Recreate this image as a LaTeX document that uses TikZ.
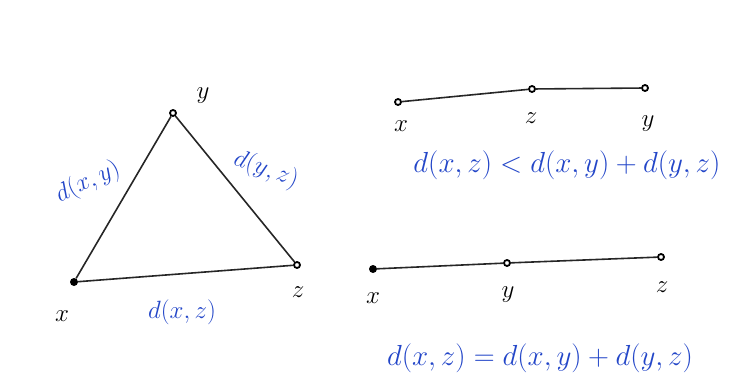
\documentclass[tikz,border=0pt]{standalone}
\usepackage{fix-cm}
\usepackage{fontspec}
\definecolor{ink}{RGB}{35,70,200}
\tikzset{
  pt/.style={circle,draw,line width=1.8pt,inner sep=0pt,minimum size=6pt},
  fpt/.style={circle,fill,inner sep=0pt,minimum size=8pt},
  edge/.style={line width=1.6pt,black!85},
  lbl/.style={font=\fontsize{25}{30}\selectfont},
  blu/.style={text=ink,font=\fontsize{25}{30}\selectfont},
  eqn/.style={text=ink,font=\fontsize{29}{34}\selectfont}
}
\begin{document}
\begin{tikzpicture}[x=1pt,y=-1pt]
\useasboundingbox (0,0) rectangle (737,377);
% triangle
\node[fpt] (tx) at (74,282) {};
\node[pt] (ty) at (173,113) {};
\node[pt] (tz) at (297,265) {};
\draw[edge] (tx) -- (ty) -- (tz) -- (tx);
\node[lbl] (ltx) at (62,316) {$x$};
\node[lbl] (lty) at (203,96) {$y$};
\node[lbl] (ltz) at (298,292) {$z$};
\node[blu,rotate=25] (dxy) at (88,182) {$d(x,y)$};
\node[blu,rotate=-20] (dyz) at (266,170) {$d(y,z)$};
\node[blu] (dxz) at (182,312) {$d(x,z)$};
% top line
\node[pt] (ax) at (398,102) {};
\node[pt] (az) at (532,89) {};
\node[pt] (ay) at (645,88) {};
\draw[edge] (ax) -- (az) -- (ay);
\node[lbl] (lax) at (401,126) {$x$};
\node[lbl] (laz) at (531,118) {$z$};
\node[lbl] (lay) at (648,124) {$y$};
\node[eqn] (ineq) at (567,165) {$d(x,z) < d(x,y) + d(y,z)$};
% bottom line
\node[fpt] (bx) at (373,269) {};
\node[pt] (by) at (507,263) {};
\node[pt] (bz) at (661,257) {};
\draw[edge] (bx) -- (by) -- (bz);
\node[lbl] (lbx) at (373,298) {$x$};
\node[lbl] (lby) at (508,295) {$y$};
\node[lbl] (lbz) at (662,287) {$z$};
\node[eqn] (eq) at (540,358) {$d(x,z) = d(x,y) + d(y,z)$};
\end{tikzpicture}
\end{document}
